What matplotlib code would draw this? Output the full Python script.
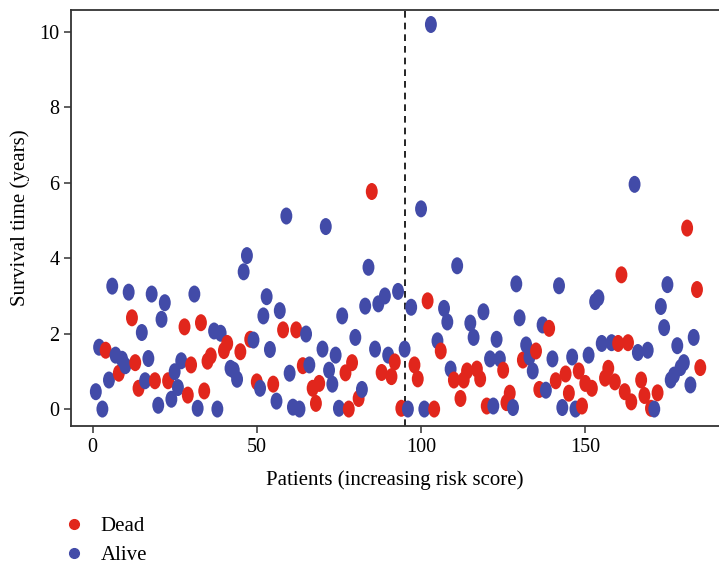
import matplotlib.pyplot as plt
from matplotlib.lines import Line2D
from matplotlib.markers import MarkerStyle
from matplotlib.transforms import Affine2D

# survival time (years) for each patient, ordered by increasing risk score
survival_time = [
    0.46, 1.64, 0.00, 1.56, 0.77, 3.26, 1.43, 0.95, 1.32, 1.15,
    3.10, 2.42, 1.23, 0.55, 2.03, 0.75, 1.34, 3.05, 0.75, 0.10,
    2.38, 2.82, 0.75, 0.26, 0.99, 0.57, 1.28, 2.18, 0.37, 1.17,
    3.05, 0.02, 2.29, 0.48, 1.27, 1.41, 2.07, 0.00, 2.01, 1.55,
    1.74, 1.08, 1.03, 0.79, 1.52, 3.64, 4.07, 1.85, 1.83, 0.72,
    0.55, 2.47, 2.98, 1.58, 0.66, 0.21, 2.61, 2.10, 5.12, 0.95,
    0.05, 2.10, 0.00, 1.15, 1.99, 1.17, 0.55, 0.15, 0.68, 1.59,
    4.84, 1.03, 0.66, 1.43, 0.02, 2.47, 0.96, 0.00, 1.23, 1.90,
    0.28, 0.52, 2.73, 3.76, 5.77, 1.59, 2.79, 0.97, 3.00, 1.43,
    0.86, 1.25, 3.12, 0.02, 1.59, 0.00, 2.70, 1.17, 0.80, 5.31,
    0.00, 2.87, 10.20, 0.00, 1.81, 1.54, 2.67, 2.31, 1.06, 0.77,
    3.80, 0.28, 0.77, 1.01, 2.28, 1.90, 1.06, 0.80, 2.58, 0.08,
    1.33, 0.08, 1.85, 1.33, 1.03, 0.17, 0.42, 0.04, 3.32, 2.42,
    1.30, 1.70, 1.38, 1.01, 1.54, 0.52, 2.23, 0.50, 2.14, 1.33,
    0.75, 3.27, 0.04, 0.93, 0.42, 1.38, 0.00, 1.01, 0.08, 0.68,
    1.43, 0.55, 2.85, 2.95, 1.74, 0.82, 1.08, 1.76, 0.72, 1.74,
    3.56, 0.46, 1.76, 0.19, 5.96, 1.50, 0.77, 0.36, 1.56, 0.02,
    0.00, 0.43, 2.72, 2.16, 3.30, 0.77, 0.90, 1.68, 1.10, 1.23,
    4.80, 0.64, 1.90, 3.17, 1.10,
]
# 1 = dead, 0 = alive
status = [
    0, 0, 0, 1, 0, 0, 0, 1, 0, 0,
    0, 1, 1, 1, 0, 0, 0, 0, 1, 0,
    0, 0, 1, 0, 0, 0, 0, 1, 1, 1,
    0, 0, 1, 1, 1, 1, 0, 0, 0, 1,
    1, 0, 0, 0, 1, 0, 0, 1, 0, 1,
    0, 0, 0, 0, 1, 0, 0, 1, 0, 0,
    0, 1, 0, 1, 0, 0, 1, 1, 1, 0,
    0, 0, 0, 0, 0, 0, 1, 1, 1, 0,
    1, 0, 0, 0, 1, 0, 0, 1, 0, 0,
    1, 1, 0, 1, 0, 0, 0, 1, 1, 0,
    0, 1, 0, 1, 0, 1, 0, 0, 0, 1,
    0, 1, 1, 1, 0, 0, 1, 1, 0, 1,
    0, 0, 0, 0, 1, 1, 1, 0, 0, 0,
    1, 0, 0, 0, 1, 1, 0, 0, 1, 0,
    1, 0, 0, 1, 1, 0, 0, 1, 1, 1,
    0, 1, 0, 0, 0, 1, 1, 0, 1, 1,
    1, 1, 1, 1, 0, 0, 1, 1, 0, 1,
    0, 1, 0, 0, 0, 0, 0, 0, 0, 0,
    1, 0, 0, 1, 1,
]
cutoff = 95
patients = list(range(1, len(survival_time) + 1))

red = '#E1261C'
blue = '#424BA8'
colors = [red if s == 1 else blue for s in status]

plt.rcParams['font.family'] = ['Liberation Serif', 'DejaVu Serif']
plt.rcParams['font.size'] = 15

fig = plt.figure(figsize=(7.19, 5.65), dpi=100)
ax = fig.add_axes([0.099, 0.246, 0.901, 0.736])

# the dots in the original are slightly tall ovals
oval = MarkerStyle('o', transform=Affine2D().scale(0.7, 1.0))
ax.scatter(patients, survival_time, c=colors, marker=oval, s=150, linewidths=0, zorder=3)
ax.axvline(cutoff, color='black', linestyle=(0, (4, 3)), linewidth=1.2, zorder=2)

ax.set_xlim(-6.5, 190.7)
ax.set_ylim(-0.45, 10.58)
ax.set_xticks([0, 50, 100, 150])
ax.set_yticks([0, 2, 4, 6, 8, 10])
ax.spines['right'].set_visible(False)
for sp in ['left', 'bottom', 'top']:
    ax.spines[sp].set_linewidth(1.3)
    ax.spines[sp].set_color('#333333')
ax.tick_params(direction='out', length=5, width=1.1, color='#333333', labelsize=14.5)
ax.set_xlabel('Patients (increasing risk score)', labelpad=10)
ax.set_ylabel('Survival time (years)', labelpad=7)

handles = [
    Line2D([], [], marker='o', linestyle='none', color=red, markersize=7, label='Dead'),
    Line2D([], [], marker='o', linestyle='none', color=blue, markersize=7, label='Alive'),
]
fig.legend(handles=handles, loc='upper left', bbox_to_anchor=(0.063, 0.1),
           frameon=False, handletextpad=0.25, labelspacing=0.45, borderaxespad=0)

plt.savefig('out.png')
